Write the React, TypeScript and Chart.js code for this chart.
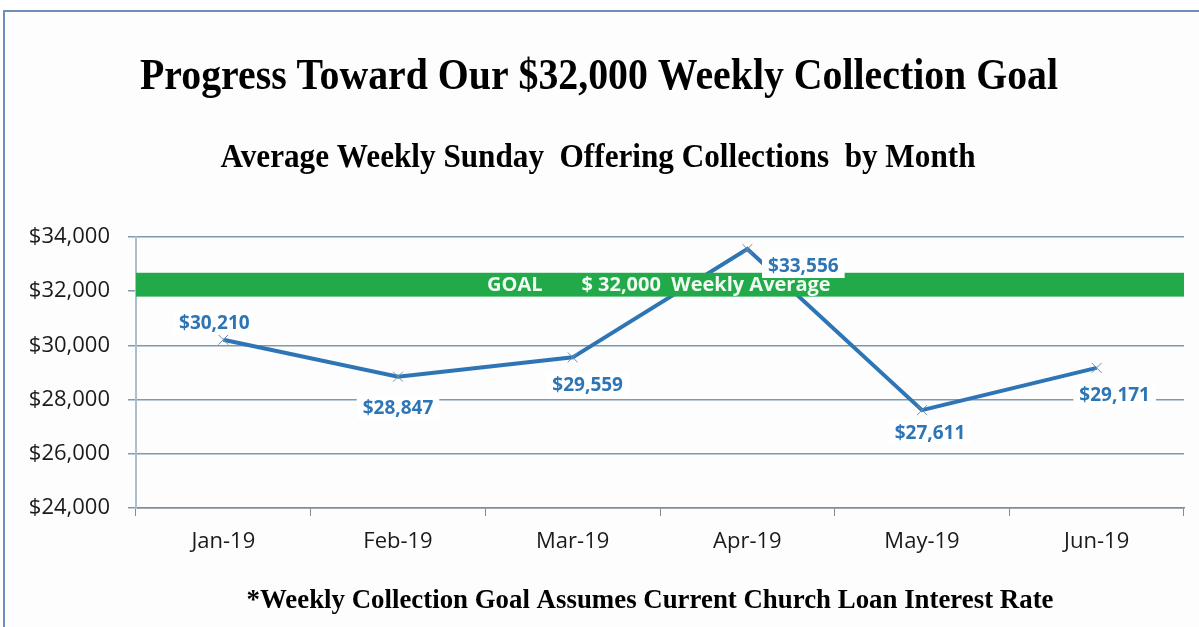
import React, { useEffect, useRef } from "react";
import { Chart, registerables } from "chart.js";

Chart.register(...registerables);

const months = ["Jan-19", "Feb-19", "Mar-19", "Apr-19", "May-19", "Jun-19"];
const collections = [30210, 28847, 29559, 33556, 27611, 29171];
const yTicks = [24000, 26000, 28000, 30000, 32000, 34000];
const goalLow = 31800;
const goalHigh = 32680;
const goalLabel = "GOAL";
const goalText = "$ 32,000  Weekly Average";
const titleText = "Progress Toward Our $32,000 Weekly Collection Goal";
const subtitleText = "Average Weekly Sunday  Offering Collections  by Month";
const footerText = "*Weekly Collection Goal Assumes Current Church Loan Interest Rate";

// label offsets (style only)
const labelOffsets = [
  [-9, -17],
  [0, 31],
  [15, 27],
  [56, 17],
  [8, 22],
  [18, 27],
];

const fmt = (v: number) => "$" + v.toLocaleString("en-US");

function drawFitText(ctx: CanvasRenderingContext2D, text: string, cx: number, cy: number, font: string, targetW: number, color: string) {
  ctx.save();
  ctx.font = font;
  ctx.fillStyle = color;
  ctx.textAlign = "center";
  ctx.textBaseline = "middle";
  const w = ctx.measureText(text).width;
  const s = targetW / w;
  ctx.translate(cx, cy);
  ctx.scale(s, 1);
  ctx.fillText(text, 0, 0);
  ctx.restore();
}

const overlayPlugin = {
  id: "overlay",
  afterDatasetsDraw(chart: any) {
    const { ctx, chartArea, scales } = chart;
    const y = scales.y;
    const top = y.getPixelForValue(goalHigh);
    const bot = y.getPixelForValue(goalLow);
    ctx.save();
    ctx.fillStyle = "#22AA4A";
    ctx.fillRect(chartArea.left, top, chartArea.right - chartArea.left, bot - top);
    ctx.fillStyle = "#F2FAF3";
    ctx.font = "bold 20px 'Open Sans'";
    ctx.textBaseline = "middle";
    ctx.textAlign = "left";
    const w = chartArea.right - chartArea.left;
    const cy = (top + bot) / 2 + 1;
    ctx.fillText(goalLabel, chartArea.left + w * 0.335, cy);
    ctx.fillText(goalText, chartArea.left + w * 0.425, cy);

    // data labels
    const meta = chart.getDatasetMeta(0);
    ctx.font = "bold 19px 'Open Sans'";
    ctx.textAlign = "center";
    meta.data.forEach((pt: any, i: number) => {
      const txt = fmt(collections[i]);
      const [dx, dy] = labelOffsets[i];
      const lx = pt.x + dx;
      const ly = pt.y + dy;
      const tw = ctx.measureText(txt).width;
      ctx.fillStyle = "#FFFFFF";
      ctx.fillRect(lx - tw / 2 - 6, ly - 12, tw + 12, 24);
      ctx.fillStyle = "#2E75B6";
      ctx.fillText(txt, lx, ly + 1);
    });
    ctx.restore();
  },
  afterDraw(chart: any) {
    const { ctx } = chart;
    drawFitText(ctx, titleText, 599, 78, "bold 44px 'Liberation Serif'", 918, "#000");
    drawFitText(ctx, subtitleText, 598, 158, "bold 33px 'Liberation Serif'", 755, "#000");
    drawFitText(ctx, footerText, 650, 601, "bold 27px 'Liberation Serif'", 807, "#000");
  },
};

export default function App() {
  const ref = useRef<HTMLCanvasElement | null>(null);
  useEffect(() => {
    if (!ref.current) return;
    const chart = new Chart(ref.current, {
      type: "line",
      data: {
        labels: months,
        datasets: [
          {
            data: collections,
            borderColor: "#2E75B6",
            borderWidth: 4,
            tension: 0,
            pointStyle: "crossRot",
            pointRadius: 7,
            pointBorderColor: "#6F8FAF",
            pointBorderWidth: 1,
            pointBackgroundColor: "#6F8FAF",
          },
        ],
      },
      options: {
        responsive: false,
        animation: false,
        layout: { padding: { left: 0, right: 15, top: 237, bottom: 69 } },
        plugins: {
          legend: { display: false },
          tooltip: { enabled: false },
          title: { display: false },
        },
        scales: {
          x: {
            type: "category",
            offset: true,
            afterFit(scale: any) {
              scale.height = 50;
            },
            grid: {
              offset: true,
              drawOnChartArea: false,
              drawTicks: true,
              tickLength: 8,
              color: "#8A8A8A",
            },
            border: { display: true, color: "#8A8A8A", width: 1.5 },
            ticks: {
              color: "#1A1A1A",
              font: { family: "'Open Sans'", size: 22 },
              padding: 13,
            },
          },
          y: {
            min: 24000,
            max: 34000,
            afterFit(scale: any) {
              scale.width = 136;
            },
            afterBuildTicks(scale: any) {
              scale.ticks = yTicks.map((v) => ({ value: v }));
            },
            grid: {
              color: "#7F9AAE",
              lineWidth: 1.5,
              drawTicks: true,
              tickLength: 8,
            },
            border: { display: true, color: "#A9BFD2", width: 2 },
            ticks: {
              color: "#1A1A1A",
              font: { family: "'Open Sans'", size: 22 },
              padding: 18,
              callback: (v: any) => fmt(Number(v)),
            },
          },
        },
      },
      plugins: [overlayPlugin],
    });
    return () => chart.destroy();
  }, []);

  return (
    <div style={{ position: "fixed", left: 0, top: 0, width: 1199, height: 627, overflow: "hidden", background: "#FFFFFF" }}>
      <div
        style={{
          position: "absolute",
          left: 3,
          top: 10,
          width: 1400,
          height: 800,
          border: "2px solid #6E8FB8",
          background: "#FDFDFD",
        }}
      />
      <canvas ref={ref} width={1199} height={627} style={{ position: "absolute", left: 0, top: 0 }} />
    </div>
  );
}
